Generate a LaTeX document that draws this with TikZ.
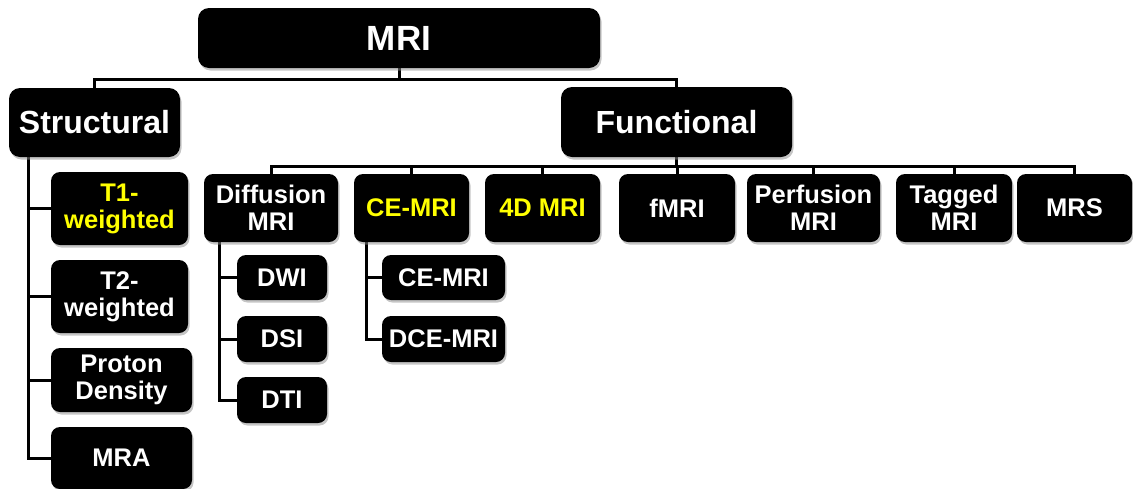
\documentclass[tikz,border=0pt]{standalone}
\usepackage{fontspec}
\setmainfont{Liberation Sans}
\usetikzlibrary{shadows,backgrounds}
\definecolor{hl}{RGB}{255,255,0}
\tikzset{
  box/.style={fill=black, text=white, rounded corners=9pt, inner sep=0pt,
    align=center, font=\bfseries\fontsize{25.5}{27}\selectfont,
    drop shadow={shadow xshift=1.5pt, shadow yshift=-2.5pt, fill=black!45, opacity=.5}},
  bigbox/.style={box, rounded corners=11pt, font=\bfseries\fontsize{32}{34}\selectfont},
  link/.style={draw=black, line width=3pt},
  hi/.style={text=hl}
}
\begin{document}
\begin{tikzpicture}[x=1pt, y=-1pt]
\useasboundingbox (0,0) rectangle (1133,488);

% root and the two main branches
\node[bigbox, font=\bfseries\fontsize{35}{37}\selectfont, minimum width=402pt, minimum height=60pt] (mri) at (399,38) {MRI};
\node[bigbox, minimum width=171pt, minimum height=69pt] (struct) at (94.5,122.5) {Structural};
\node[bigbox, minimum width=231pt, minimum height=70pt] (func) at (676.5,122) {Functional};

% functional techniques
\node[box, minimum width=134pt, minimum height=68pt] (diff) at (271,208) {Diffusion\\MRI};
\node[box, hi, minimum width=115pt, minimum height=68pt] (cemri) at (411.5,208) {CE-MRI};
\node[box, hi, minimum width=115pt, minimum height=68pt] (d4) at (542.5,208) {4D MRI};
\node[box, minimum width=116pt, minimum height=68pt] (fmri) at (677,208) {fMRI};
\node[box, minimum width=133pt, minimum height=68pt] (perf) at (813.5,208) {Perfusion\\MRI};
\node[box, minimum width=116pt, minimum height=68pt] (tag) at (954,208) {Tagged\\MRI};
\node[box, minimum width=115pt, minimum height=68pt] (mrs) at (1074.5,208) {MRS};

% structural contrasts
\node[box, hi, minimum width=137pt, minimum height=73pt] (t1) at (119.5,208.5) {T1-\\weighted};
\node[box, minimum width=137pt, minimum height=73pt] (t2) at (119.5,296.5) {T2-\\weighted};
\node[box, minimum width=141pt, minimum height=64pt] (pd) at (121.5,380) {Proton\\Density};
\node[box, minimum width=141pt, minimum height=62pt] (mra) at (121.5,458) {MRA};

% diffusion variants
\node[box, minimum width=90pt, minimum height=45pt] (dwi) at (282,277.5) {DWI};
\node[box, minimum width=90pt, minimum height=46pt] (dsi) at (282,339) {DSI};
\node[box, minimum width=90pt, minimum height=46pt] (dti) at (282,400) {DTI};

% contrast-enhanced variants
\node[box, minimum width=123pt, minimum height=45pt] (ce2) at (443.5,277.5) {CE-MRI};
\node[box, minimum width=123pt, minimum height=46pt] (dce) at (443.5,339) {DCE-MRI};

% bus lines and spines
\coordinate (topbus) at (0,79);
\coordinate (fbus) at (0,166);
\coordinate (sspine) at (28,0);
\coordinate (dspine) at (219,0);
\coordinate (cspine) at (366,0);

\begin{scope}[on background layer]
\draw[link] (mri.south) -- (mri.south |- topbus) -| (struct.north);
\draw[link] (mri.south |- topbus) -| (func.north);
\foreach \n in {diff,cemri,d4,fmri,perf,tag,mrs}
  \draw[link] (func.south) -- (func.south |- fbus) -| (\n.north);
\foreach \n in {t1,t2,pd,mra}
  \draw[link] (struct.south -| sspine) |- (\n.west);
\foreach \n in {dwi,dsi,dti}
  \draw[link] (diff.south -| dspine) |- (\n.west);
\foreach \n in {ce2,dce}
  \draw[link] (cemri.south -| cspine) |- (\n.west);
\end{scope}
\end{tikzpicture}
\end{document}
